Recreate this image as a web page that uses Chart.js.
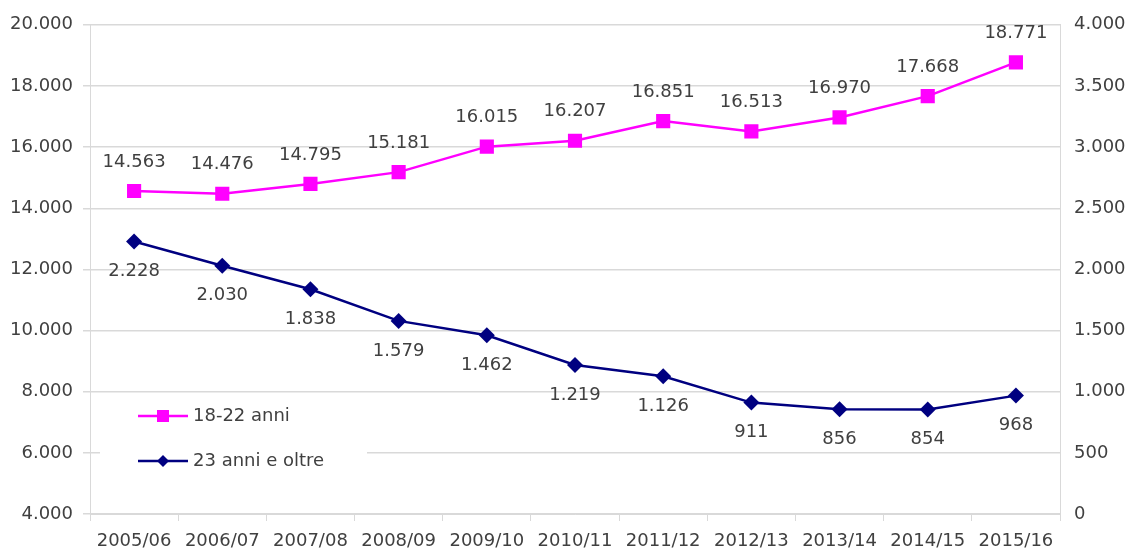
<!DOCTYPE html>
<html lang="it">
<head>
  <meta charset="UTF-8">
  <title>Iscritti per classe di età</title>
  <script src="https://cdn.jsdelivr.net/npm/chart.js"></script>
  <style>
    body { margin: 0; background: #fff; }
    #wrap { width: 1131px; height: 549px; }
  </style>
</head>
<body>
<div id="wrap"><canvas id="grafico" width="1131" height="549"></canvas></div>
<script>
  // anni accademici
  const anni = ['2005/06', '2006/07', '2007/08', '2008/09', '2009/10', '2010/11',
                '2011/12', '2012/13', '2013/14', '2014/15', '2015/16'];
  // 18-22 anni (asse sinistro)
  const giovani = [14563, 14476, 14795, 15181, 16015, 16207, 16851, 16513, 16970, 17668, 18771];
  // 23 anni e oltre (asse destro)
  const adulti = [2228, 2030, 1838, 1579, 1462, 1219, 1126, 911, 856, 854, 968];

  const FONT = 'DejaVu Sans';
  const GRIGIO = '#404040';
  const fmtNum = v => String(v).replace(/\B(?=(\d{3})+(?!\d))/g, '.');

  // etichette dei valori sopra / sotto i punti
  const etichette = {
    id: 'etichette',
    afterDatasetsDraw(chart) {
      const ctx = chart.ctx;
      ctx.save();
      ctx.font = '18px ' + FONT;
      ctx.fillStyle = GRIGIO;
      ctx.textAlign = 'center';
      ctx.textBaseline = 'middle';
      chart.data.datasets.forEach((ds, i) => {
        const meta = chart.getDatasetMeta(i);
        meta.data.forEach((pt, j) => {
          const dy = i === 0 ? -29 : 30;
          ctx.fillText(fmtNum(ds.data[j]), pt.x, pt.y + dy);
        });
      });
      ctx.restore();
    }
  };

  // legenda dentro l'area del grafico
  const legenda = {
    id: 'legenda',
    afterDatasetsDraw(chart) {
      const ctx = chart.ctx;
      ctx.save();
      ctx.fillStyle = '#fff';
      ctx.fillRect(100, 396, 267, 88);
      ctx.font = '18px ' + FONT;
      ctx.textBaseline = 'middle';
      chart.data.datasets.forEach((ds, i) => {
        const y = 416 + i * 45;
        ctx.strokeStyle = ds.borderColor;
        ctx.lineWidth = 2.5;
        ctx.beginPath();
        ctx.moveTo(138, y);
        ctx.lineTo(188, y);
        ctx.stroke();
        ctx.fillStyle = ds.borderColor;
        if (i === 0) {
          ctx.fillRect(157, y - 6, 12, 12);
        } else {
          ctx.beginPath();
          ctx.moveTo(163, y - 6);
          ctx.lineTo(169, y);
          ctx.lineTo(163, y + 6);
          ctx.lineTo(157, y);
          ctx.closePath();
          ctx.fill();
        }
        ctx.fillStyle = GRIGIO;
        ctx.fillText(ds.label, 193, y);
      });
      ctx.restore();
    }
  };

  new Chart(document.getElementById('grafico'), {
    type: 'line',
    data: {
      labels: anni,
      datasets: [
        {
          label: '18-22 anni',
          data: giovani,
          yAxisID: 'ySx',
          borderColor: '#ff00ff',
          backgroundColor: '#ff00ff',
          borderWidth: 2.5,
          pointStyle: 'rect',
          pointRadius: 10,
          pointBorderWidth: 0
        },
        {
          label: '23 anni e oltre',
          data: adulti,
          yAxisID: 'yDx',
          borderColor: '#000080',
          backgroundColor: '#000080',
          borderWidth: 2.5,
          pointStyle: 'rectRot',
          pointRadius: 8,
          pointBorderWidth: 0
        }
      ]
    },
    options: {
      responsive: false,
      animation: false,
      events: [],
      layout: { padding: { top: 17, bottom: 0, left: 0, right: 0 } },
      plugins: { legend: { display: false }, tooltip: { enabled: false } },
      scales: {
        x: {
          offset: true,
          grid: { offset: true, drawOnChartArea: false, color: '#d9d9d9', tickLength: 7 },
          border: { color: '#d9d9d9' },
          ticks: { color: GRIGIO, font: { family: FONT, size: 18 }, padding: 10, maxRotation: 0 },
          afterFit(s) { s.height = 35; }
        },
        ySx: {
          position: 'left',
          min: 4000, max: 20000,
          ticks: { stepSize: 2000, color: GRIGIO, font: { family: FONT, size: 18 }, callback: v => fmtNum(v), padding: 10 },
          grid: { color: '#d9d9d9', lineWidth: 1.5, tickLength: 7 },
          border: { color: '#d9d9d9' },
          afterFit(s) { s.width = 90; }
        },
        yDx: {
          position: 'right',
          min: 0, max: 4000,
          ticks: { stepSize: 500, color: GRIGIO, font: { family: FONT, size: 18 }, callback: v => fmtNum(v), padding: 14 },
          grid: { drawOnChartArea: false, color: '#d9d9d9', tickLength: 0 },
          border: { color: '#d9d9d9' },
          afterFit(s) { s.width = 71; }
        }
      }
    },
    plugins: [etichette, legenda]
  });
</script>
</body>
</html>
